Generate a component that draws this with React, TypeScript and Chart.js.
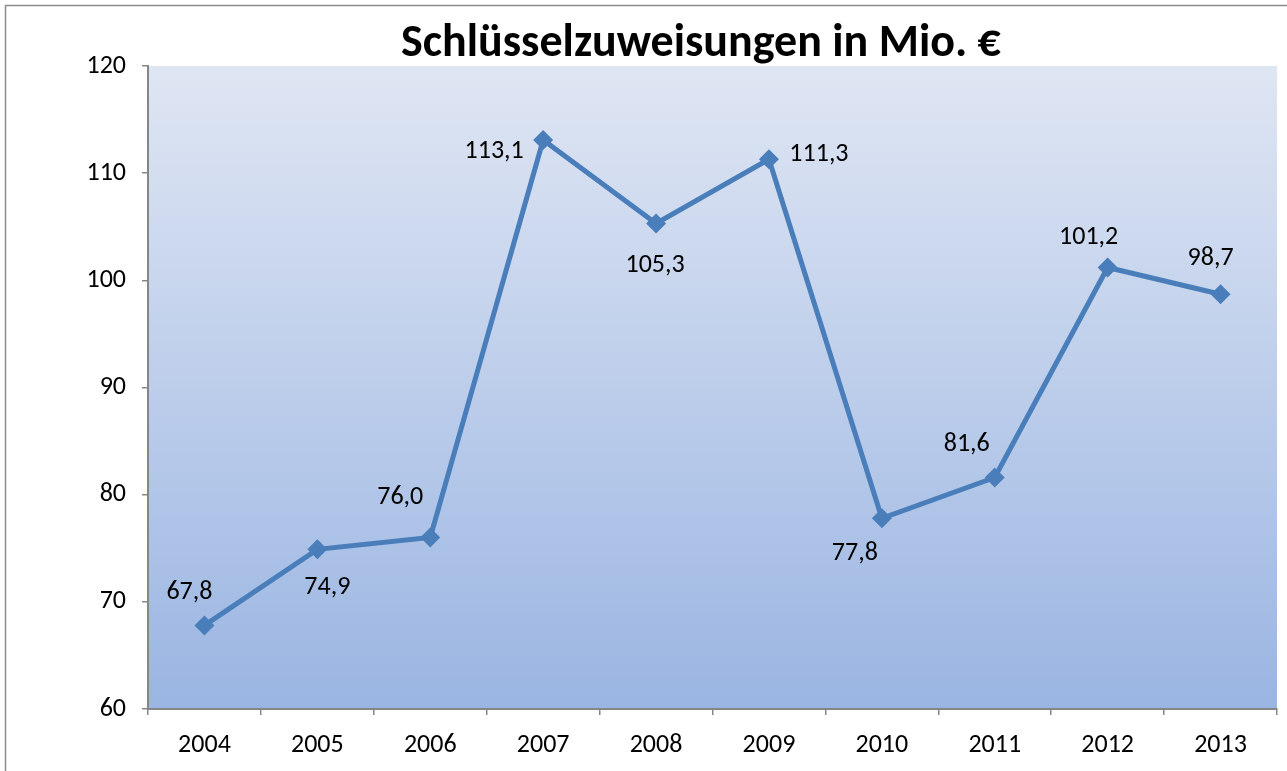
import React, { useEffect, useRef } from "react";
import { Chart, registerables } from "chart.js";

Chart.register(...registerables);

const years = ["2004", "2005", "2006", "2007", "2008", "2009", "2010", "2011", "2012", "2013"];
const values = [67.8, 74.9, 76.0, 113.1, 105.3, 111.3, 77.8, 81.6, 101.2, 98.7];
const valueLabels = ["67,8", "74,9", "76,0", "113,1", "105,3", "111,3", "77,8", "81,6", "101,2", "98,7"];
const labelDx = [-15, 10, -30, -49, -1, 50, -27, -28, -19, -10];
const labelDy = [-33, 38, -40, 12, 42, -5, 35, -33, -30, -36];
const yMin = 60;
const yMax = 120;
const yStep = 10;
const titleText = "Schlüsselzuweisungen in Mio. €";

const FONT = "Carlito, Lato, sans-serif";

export default function App() {
  const ref = useRef<HTMLCanvasElement | null>(null);

  useEffect(() => {
    document.body.style.margin = "0";
    const canvas = ref.current;
    if (!canvas) return;

    const bgPlugin = {
      id: "bg",
      beforeDraw(chart: any) {
        const { ctx, chartArea } = chart;
        ctx.save();
        ctx.fillStyle = "#ffffff";
        ctx.fillRect(0, 0, chart.width, chart.height);
        const g = ctx.createLinearGradient(0, chartArea.top, 0, chartArea.bottom);
        g.addColorStop(0, "#dfe6f3");
        g.addColorStop(1, "#9ab5e2");
        ctx.fillStyle = g;
        ctx.fillRect(chartArea.left, chartArea.top, chartArea.right - chartArea.left, chartArea.bottom - chartArea.top);
        ctx.strokeStyle = "#8c8c8c";
        ctx.lineWidth = 1.5;
        ctx.beginPath();
        ctx.moveTo(5.5, chart.height);
        ctx.lineTo(5.5, 5.5);
        ctx.lineTo(chart.width, 5.5);
        ctx.stroke();
        ctx.fillStyle = "#000000";
        ctx.font = `bold 46px ${FONT}`;
        ctx.textAlign = "center";
        ctx.textBaseline = "alphabetic";
        ctx.fillText(titleText, 701, 56);
        ctx.restore();
      },
    };

    const labelPlugin = {
      id: "vlabels",
      afterDatasetsDraw(chart: any) {
        const { ctx } = chart;
        const meta = chart.getDatasetMeta(0);
        ctx.save();
        ctx.fillStyle = "#000000";
        ctx.font = `26px ${FONT}`;
        ctx.textAlign = "center";
        ctx.textBaseline = "middle";
        meta.data.forEach((pt: any, i: number) => {
          ctx.fillText(valueLabels[i], pt.x + labelDx[i], pt.y + labelDy[i]);
        });
        ctx.restore();
      },
    };

    const chart = new Chart(canvas, {
      type: "line",
      data: {
        labels: years,
        datasets: [
          {
            data: values,
            borderColor: "#4a7ebb",
            backgroundColor: "#4a7ebb",
            borderWidth: 5,
            pointStyle: "rectRot",
            pointRadius: 10,
            pointBackgroundColor: "#4a7ebb",
            pointBorderWidth: 0,
            tension: 0,
            clip: false as any,
          },
        ],
      },
      options: {
        animation: false,
        responsive: false,
        layout: { padding: { top: 66, right: 10, left: 0, bottom: 0 } },
        plugins: { legend: { display: false }, title: { display: false }, tooltip: { enabled: false } },
        scales: {
          x: {
            offset: true,
            grid: {
              display: true,
              drawOnChartArea: false,
              offset: true,
              tickLength: 6,
              color: "#868686",
              lineWidth: 1.5,
            },
            border: { display: true, color: "#868686", width: 2 },
            ticks: { color: "#000000", font: { family: FONT, size: 26 }, padding: 15, maxRotation: 0 },
            afterFit(scale: any) {
              scale.height = 62;
            },
          },
          y: {
            min: yMin,
            max: yMax,
            grid: {
              display: true,
              drawOnChartArea: false,
              tickLength: 6,
              color: "#868686",
              lineWidth: 1.5,
            },
            border: { display: true, color: "#868686", width: 2 },
            ticks: { stepSize: yStep, color: "#000000", font: { family: FONT, size: 26 }, padding: 16 },
            afterFit(scale: any) {
              scale.width = 148;
            },
          },
        },
      },
      plugins: [bgPlugin, labelPlugin],
    });

    return () => chart.destroy();
  }, []);

  return (
    <div style={{ width: 1287, height: 771 }}>
      <canvas ref={ref} width={1287} height={771} style={{ display: "block" }} />
    </div>
  );
}
